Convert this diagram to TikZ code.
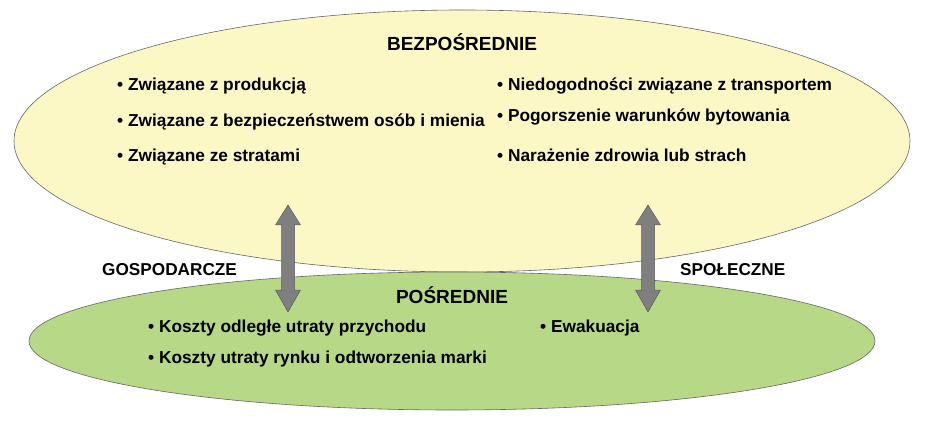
\documentclass[tikz,border=0pt]{standalone}
\usepackage{fontspec}
\setmainfont{Liberation Sans}
\usetikzlibrary{shapes.geometric}

\definecolor{jasnyzolty}{HTML}{FCF8C6}
\definecolor{jasnyzielony}{HTML}{B7D887}
\definecolor{szarystrzalka}{HTML}{7F7F80}

\tikzset{
    owal/.style={ellipse, draw=black!60, line width=0.6pt, inner sep=0pt},
    punkt/.style={anchor=west, inner sep=0pt, font=\bfseries\fontsize{17.3}{20}\selectfont},
    tytul/.style={inner sep=0pt, font=\bfseries\fontsize{19}{22}\selectfont},
    bok/.style={anchor=west, inner sep=0pt, font=\bfseries\fontsize{17.2}{20}\selectfont},
    strzalka/.style={fill=szarystrzalka, draw=black!65, line width=0.5pt, line join=round}
}

\newcommand{\dwustrzalka}[3]{%
    % #1 = x, #2 = gorny czubek, #3 = dolny czubek
    \draw[strzalka] (#1,#2) -- (#1+12.5,#2+20) -- (#1+6.5,#2+20) -- (#1+6.5,#3-22)
        -- (#1+12.5,#3-22) -- (#1,#3) -- (#1-12.5,#3-22) -- (#1-6.5,#3-22)
        -- (#1-6.5,#2+20) -- (#1-12.5,#2+20) -- cycle;
}

\begin{document}
\begin{tikzpicture}[x=1pt, y=-1pt]
    \useasboundingbox (0,0) rectangle (930,425);

    % owale
    \node[owal, fill=jasnyzolty, minimum width=896pt, minimum height=262pt] (bezp) at (462,141) {};
    \node[owal, fill=jasnyzielony, minimum width=846pt, minimum height=138pt] (posr) at (452,341) {};

    % strzalki
    \dwustrzalka{288}{205}{312}
    \dwustrzalka{648}{205}{312}

    % naglowki
    \node[tytul] (tbezp) at (462,42) {BEZPOŚREDNIE};
    \node[tytul] (tposr) at (452,295) {POŚREDNIE};
    \node[bok] (gosp) at (102,270) {GOSPODARCZE};
    \node[bok] (spol) at (680,270) {SPOŁECZNE};

    % bezposrednie
    \node[punkt] (b1) at (117,86) {• Związane z produkcją};
    \node[punkt] (b2) at (117,122) {• Związane z bezpieczeństwem osób i mienia};
    \node[punkt] (b3) at (117,157) {• Związane ze stratami};
    \node[punkt] (b4) at (497,86) {• Niedogodności związane z transportem};
    \node[punkt] (b5) at (497,117) {• Pogorszenie warunków bytowania};
    \node[punkt] (b6) at (497,155) {• Narażenie zdrowia lub strach};

    % posrednie
    \node[punkt] (p1) at (148,328) {• Koszty odległe utraty przychodu};
    \node[punkt] (p2) at (148,359) {• Koszty utraty rynku i odtworzenia marki};
    \node[punkt] (p3) at (540,328) {• Ewakuacja};
\end{tikzpicture}
\end{document}
